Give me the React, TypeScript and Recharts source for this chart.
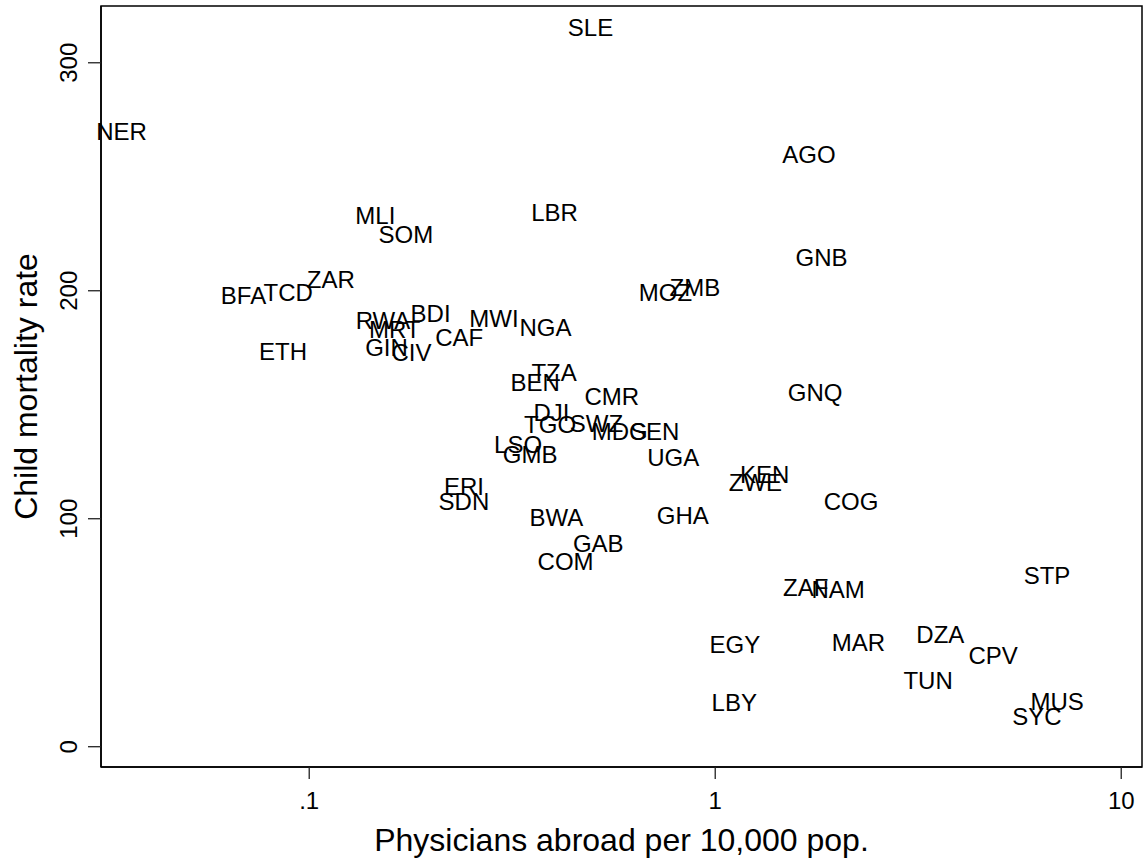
import { ScatterChart, Scatter, XAxis, YAxis, ReferenceArea } from "recharts"

const countries = [
  "SLE", "NER", "MLI", "SOM", "LBR", "BFA", "TCD", "ZAR", "RWA", "BDI",
  "MRT", "MWI", "NGA", "CAF", "GIN", "CIV", "ETH", "TZA", "BEN", "CMR",
  "DJI", "TGO", "SWZ", "MDG", "SEN", "UGA", "LSO", "GMB", "ERI", "SDN",
  "BWA", "GAB", "COM", "AGO", "GNB", "MOZ", "ZMB", "GNQ", "KEN", "ZWE",
  "COG", "GHA", "STP", "ZAF", "NAM", "EGY", "MAR", "DZA", "CPV", "TUN",
  "LBY", "MUS", "SYC",
]

const physiciansAbroad = [
  0.493, 0.0345, 0.1455, 0.173, 0.402, 0.0689, 0.0888, 0.113, 0.152, 0.199,
  0.1624, 0.285, 0.382, 0.234, 0.155, 0.1786, 0.0862, 0.401, 0.36, 0.556,
  0.395, 0.392, 0.51, 0.582, 0.709, 0.788, 0.327, 0.35, 0.2405, 0.2405,
  0.406, 0.515, 0.428, 1.702, 1.828, 0.754, 0.891, 1.762, 1.323, 1.256,
  2.161, 0.832, 6.565, 1.671, 2.007, 1.118, 2.253, 3.584, 4.838, 3.344,
  1.114, 6.95, 6.2,
]

const childMortality = [
  315.6, 270, 232.9, 224.9, 234.3, 197.8, 199.5, 204.8, 186.8, 189.9,
  183.1, 187.8, 183.9, 179.5, 175.1, 172.9, 173.6, 164.3, 159.6, 153.6,
  146.6, 141.2, 142, 138.2, 138.5, 126.8, 132.5, 128.3, 114.2, 107.8,
  100.7, 89.4, 81.5, 259.9, 214.6, 199.2, 201.4, 155.4, 119.5, 116,
  107.8, 101.3, 75, 69.7, 68.9, 44.7, 45.7, 49.3, 39.9, 28.9,
  19.4, 19.7, 13.4,
]

const xTicks = [0.1, 1, 10]
const xTickLabels = [".1", "1", "10"]
const yTicks = [0, 100, 200, 300]

const X_MIN = 0.0307
const X_MAX = 11.25
const Y_MIN = -8.9
const Y_MAX = 324.9

const FONT = "'Liberation Sans', Arial, Helvetica, sans-serif"

const data = countries.map((code, i) => ({
  code,
  x: physiciansAbroad[i],
  y: childMortality[i],
}))

function CodeLabel(props: any) {
  const { cx, cy, payload } = props
  return (
    <text x={cx} y={cy} dy="0.36em" textAnchor="middle" fontSize={24} fontFamily={FONT} fill="#000">
      {payload.code}
    </text>
  )
}

function XTick(props: any) {
  const { x, payload } = props
  const idx = xTicks.indexOf(payload.value)
  return (
    <text x={x} y={809} textAnchor="middle" fontSize={24} fontFamily={FONT} fill="#000">
      {idx >= 0 ? xTickLabels[idx] : payload.value}
    </text>
  )
}

function YTick(props: any) {
  const { y, payload } = props
  return (
    <text
      x={68.3}
      y={y}
      dy="0.36em"
      textAnchor="middle"
      fontSize={24}
      fontFamily={FONT}
      fill="#000"
      transform={`rotate(-90, 68.3, ${y})`}
    >
      {payload.value}
    </text>
  )
}

export default function App() {
  return (
    <div style={{ position: "absolute", left: 0, top: 0, background: "#fff" }}>
      <ScatterChart width={1146} height={865} margin={{ top: 6, right: 4, bottom: 0, left: 0 }}>
        <XAxis
          dataKey="x"
          type="number"
          scale="log"
          domain={[X_MIN, X_MAX]}
          ticks={xTicks}
          height={98}
          tickSize={12}
          tick={<XTick />}
          tickLine={{ stroke: "#222", strokeWidth: 1.3 }}
          axisLine={{ stroke: "#000", strokeWidth: 1.5 }}
          label={(p: any) => {
            const vb = p.viewBox || { x: 101, width: 1041 }
            return (
              <text x={vb.x + vb.width / 2} y={851} textAnchor="middle" fontSize={32} fontFamily={FONT} fill="#000">
                Physicians abroad per 10,000 pop.
              </text>
            )
          }}
        />
        <YAxis
          dataKey="y"
          type="number"
          domain={[Y_MIN, Y_MAX]}
          ticks={yTicks}
          width={101}
          tickSize={13}
          tick={<YTick />}
          tickLine={{ stroke: "#222", strokeWidth: 1.3 }}
          axisLine={{ stroke: "#000", strokeWidth: 1.5 }}
          label={(p: any) => {
            const vb = p.viewBox || { y: 6, height: 761 }
            const cy = vb.y + vb.height / 2
            return (
              <text
                x={37.3}
                y={cy}
                textAnchor="middle"
                fontSize={32}
                fontFamily={FONT}
                fill="#000"
                transform={`rotate(-90, 37.3, ${cy})`}
              >
                Child mortality rate
              </text>
            )
          }}
        />
        <ReferenceArea
          x1={X_MIN}
          x2={X_MAX}
          y1={Y_MIN}
          y2={Y_MAX}
          fill="none"
          fillOpacity={0}
          stroke="#000"
          strokeWidth={1.5}
          ifOverflow="visible"
        />
        <Scatter data={data} shape={<CodeLabel />} isAnimationActive={false} />
      </ScatterChart>
    </div>
  )
}
